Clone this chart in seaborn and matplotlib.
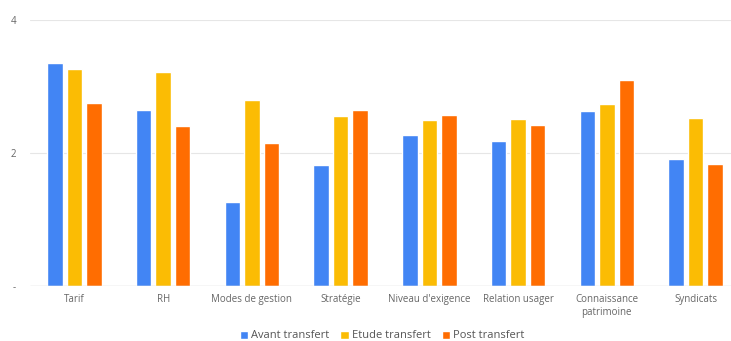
import matplotlib
matplotlib.use("Agg")
import matplotlib.pyplot as plt
import seaborn as sns
import pandas as pd

categories = ["Tarif", "RH", "Modes de gestion", "Stratégie", "Niveau d'exigence",
              "Relation usager", "Connaissance\npatrimoine", "Syndicats"]
avant = [3.35, 2.65, 1.26, 1.82, 2.27, 2.18, 2.63, 1.91]
etude = [3.26, 3.22, 2.80, 2.56, 2.50, 2.51, 2.74, 2.53]
post = [2.75, 2.41, 2.15, 2.65, 2.57, 2.42, 3.10, 1.83]
series = ["Avant transfert", "Etude transfert", "Post transfert"]
colors = ["#4285F4", "#FBBC04", "#FF6D01"]
yticks = [0, 2, 4]
ytick_labels = ["-", "2", "4"]

rows = []
for name, vals in zip(series, [avant, etude, post]):
    for c, v in zip(categories, vals):
        rows.append({"cat": c, "serie": name, "val": v})
df = pd.DataFrame(rows)

sns.set_style("white")
plt.rcParams["font.family"] = ["Open Sans", "DejaVu Sans"]

fig = plt.figure(figsize=(7.31, 3.41), dpi=100)
ax = fig.add_axes([30 / 731, 55 / 341, 710 / 731, 266 / 341])
sns.barplot(data=df, x="cat", y="val", hue="serie", order=categories,
            hue_order=series, palette=colors, width=0.66, gap=0.2,
            saturation=1, ax=ax, legend=True)

ax.set_xlim(-0.5, len(categories) - 0.5)
ax.set_ylim(0, 4)
ax.set_yticks(yticks)
ax.set_yticklabels(ytick_labels)
ax.set_xlabel("")
ax.set_ylabel("")
for s in ax.spines.values():
    s.set_visible(False)
ax.grid(axis="y", color="#e6e6e6", linewidth=0.8)
ax.set_axisbelow(True)
ax.axhline(0, color="#cccccc", linewidth=0.9)
ax.tick_params(axis="x", length=0, labelsize=7, colors="#666666", pad=6)
ax.tick_params(axis="y", length=0, labelsize=7, colors="#666666", pad=10)

leg = ax.legend(loc="center", bbox_to_anchor=(0.5 - 3 / 710, -50 / 266),
                ncol=3, frameon=False, fontsize=8.0, handlelength=0.75,
                handleheight=0.75, handletextpad=0.25, columnspacing=1.0)
for t in leg.get_texts():
    t.set_color("#555555")

fig.savefig("out.png", dpi=100)
